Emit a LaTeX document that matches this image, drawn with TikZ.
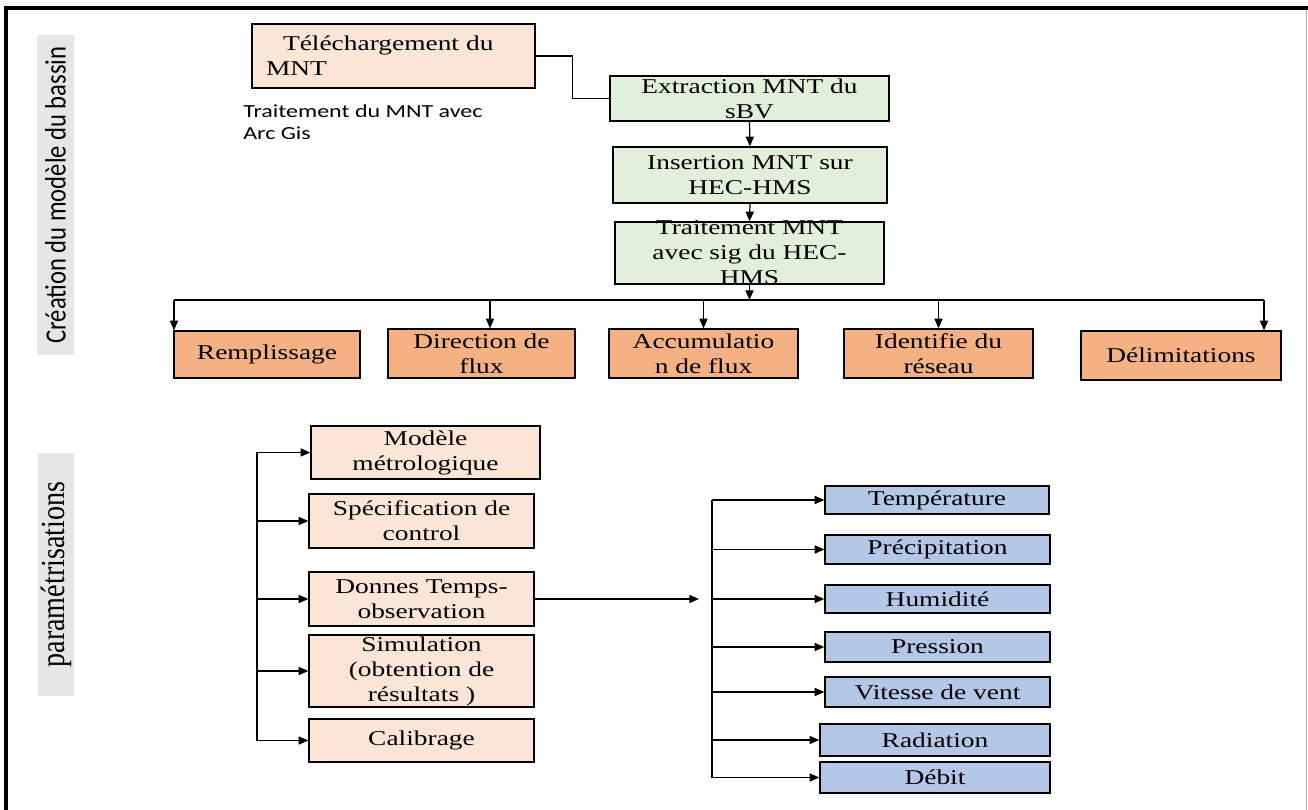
\documentclass[tikz,border=0pt]{standalone}
\usepackage{fontspec}
\setmainfont{Liberation Serif}[FakeStretch=1.3]
\newfontfamily\calibrifont{Carlito}[FakeStretch=1.3]
\newfontfamily\calibriplain{Carlito}
\newfontfamily\timesplain{Liberation Serif}
\usepackage{xcolor}
\usepackage{graphicx}
\usepackage{tikz}
\usetikzlibrary{arrows.meta}

\definecolor{peach}{HTML}{FBE5D6}
\definecolor{leaf}{HTML}{E2EFDA}
\definecolor{apricot}{HTML}{F4B183}
\definecolor{sky}{HTML}{B4C7E7}
\definecolor{sidegray}{HTML}{E7E6E6}

\tikzset{
  txt/.style={align=center, inner sep=0pt, font=\fontsize{12}{14.2}\selectfont},
  box/.style={txt, draw=black, line width=0.8pt},
  peachbox/.style={box, fill=peach},
  greenbox/.style={box, fill=leaf},
  orangebox/.style={box, fill=apricot},
  bluebox/.style={box, fill=sky},
  sidelabel/.style={fill=sidegray, rotate=90, inner sep=0pt},
  link/.style={line width=0.7pt},
  arr/.style={line width=0.7pt, -{Triangle[length=5.5pt,width=4.6pt]}},
}

\begin{document}
\begin{tikzpicture}[x=0.02cm, y=-0.02cm]
\useasboundingbox (0,0) rectangle (1308,810);

% Frame
\draw[line width=2.2pt] (6,810) -- (6,8) -- (1308,8);
\draw[gray!60, line width=0.5pt] (1306,10) -- (1306,810);

% Side labels
\node[sidelabel, minimum width=6.4cm, minimum height=0.74cm] (creation) at (55.5,195)
  {\scalebox{1}[1.2]{\calibriplain\fontsize{14}{16}\selectfont Création du modèle du bassin}};
\node[sidelabel, minimum width=4.86cm, minimum height=0.72cm] (param) at (56,574.5)
  {\scalebox{1}[1.2]{\timesplain\fontsize{16}{18}\selectfont paramétrisations}};

% MNT chain
\node[peachbox, text width=5.1cm, inner xsep=0.28cm, align=left, minimum height=1.28cm] (tele) at (393.5,56)
  {\hspace*{0.34cm}Téléchargement du\\MNT};
\node[anchor=north west, inner sep=0pt, align=left, font=\calibrifont\fontsize{10.5}{13}\selectfont] (note) at (243,104)
  {Traitement du MNT avec\\Arc Gis};
\node[greenbox, minimum width=5.58cm, minimum height=0.9cm] (extr) at (749.5,98.5) {Extraction MNT du\\sBV};
\node[greenbox, minimum width=5.48cm, minimum height=1.12cm] (ins) at (750,175) {Insertion MNT sur\\HEC-HMS};
\node[greenbox, minimum width=5.38cm, minimum height=1.24cm] (trait) at (749.5,253) {};
\node[txt] (traittxt) at (trait) {Traitement MNT\\avec sig du HEC-\\HMS};

\draw[link] (tele.east) -- ++(37,0) |- (extr.west);
\draw[arr] (extr.south) -- (ins.north);
\draw[arr] (ins.south) -- (trait.north);

% Processing steps
\node[orangebox, minimum width=3.72cm, minimum height=0.94cm] (rempl) at (267,354.5) {Remplissage};
\node[orangebox, minimum width=3.74cm, minimum height=0.98cm] (dir) at (481.5,353.5) {Direction de\\flux};
\node[orangebox, minimum width=3.78cm, minimum height=0.98cm] (accu) at (703.5,353.5) {Accumulatio\\n de flux};
\node[orangebox, minimum width=3.78cm, minimum height=0.98cm] (ident) at (938.5,353.5) {Identifie du\\réseau};
\node[orangebox, minimum width=4cm, minimum height=0.98cm] (delim) at (1181,355.5) {Délimitations};

\coordinate (hub) at (750,300);
\coordinate (busl) at (174,300);
\coordinate (busr) at (1264,300);
\draw[arr] (trait.south) -- (trait.south |- hub);
\draw[link] (busl) -- (busr);
\draw[arr] (busl) -- (busl |- rempl.north);
\draw[arr] (busr) -- (busr |- delim.north);
\draw[arr] ([xshift=0.17cm]dir.north |- hub) -- ([xshift=0.17cm]dir.north);
\foreach \n in {accu,ident}
  \draw[arr] (\n.north |- hub) -- (\n.north);

% Parameter boxes
\node[peachbox, minimum width=4.58cm, minimum height=1.06cm] (modele) at (425.5,452.5) {Modèle\\métrologique};
\node[peachbox, minimum width=4.5cm, minimum height=1.08cm] (spec) at (421.5,521) {Spécification de\\control};
\node[peachbox, minimum width=4.5cm, minimum height=1.08cm] (donnes) at (421.5,599) {Donnes Temps-\\observation};
\node[peachbox, minimum width=4.5cm, minimum height=1.44cm] (simul) at (421.5,671) {Simulation\\(obtention de\\résultats )};
\node[peachbox, minimum width=4.5cm, minimum height=0.86cm] (calib) at (421.5,740.5) {Calibrage};

\coordinate (lbus) at (257,453);
\draw[link] (modele.west -| lbus) -- (calib.west -| lbus);
\foreach \n in {modele,spec,donnes,simul,calib}
  \draw[arr] (\n.west -| lbus) -- (\n.west);

% Observed data
\node[bluebox, minimum width=4.48cm, minimum height=0.56cm] (temp) at (937,500) {Température};
\node[bluebox, minimum width=4.5cm, minimum height=0.58cm] (precip) at (937.5,549.5) {Précipitation};
\node[bluebox, minimum width=4.5cm, minimum height=0.56cm] (humid) at (937.5,599) {Humidité};
\node[bluebox, minimum width=4.5cm, minimum height=0.6cm] (press) at (937.5,647) {Pression};
\node[bluebox, minimum width=4.5cm, minimum height=0.6cm] (vitesse) at (937.5,692) {Vitesse de vent};
\node[bluebox, minimum width=4.6cm, minimum height=0.64cm] (radia) at (935,740) {Radiation};
\node[bluebox, minimum width=4.6cm, minimum height=0.62cm] (debit) at (935,777.5) {Débit};

\coordinate (rin) at (699,599);
\coordinate (rbus) at (712,500);
\draw[arr] (donnes.east) -- (rin);
\draw[link] (temp.west -| rbus) -- (debit.west -| rbus);
\foreach \n in {temp,precip,humid,press,vitesse,radia,debit}
  \draw[arr] (\n.west -| rbus) -- (\n.west);

\end{tikzpicture}
\end{document}
